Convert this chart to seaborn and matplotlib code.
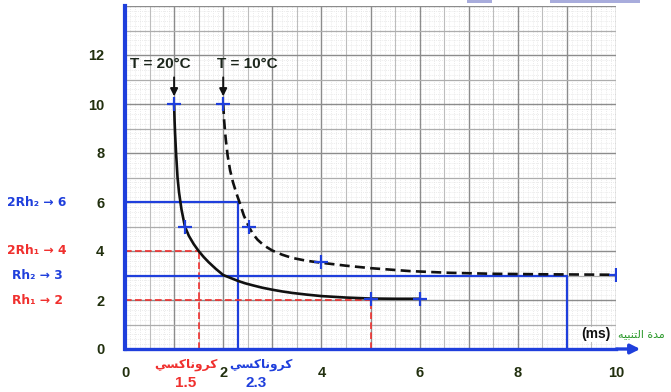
import numpy as np
import pandas as pd
import matplotlib
matplotlib.use("Agg")
import matplotlib.pyplot as plt
from matplotlib.patches import Rectangle
import seaborn as sns

# ---- data ----
t20_x = [1.0, 1.01, 1.02, 1.04, 1.07, 1.1, 1.15, 1.22, 1.3, 1.4, 1.5, 1.6, 1.7, 1.85, 2.0, 2.15,
         2.3, 2.45, 2.6, 2.8, 3.0, 3.2, 3.4, 3.7, 4.0, 4.5, 5.0, 5.5, 6.0]
t20_y = [10.0, 9.3, 8.8, 8.0, 7.0, 6.4, 5.7, 5.0, 4.62, 4.28, 4.0, 3.76, 3.55, 3.27, 3.02, 2.9,
         2.78, 2.68, 2.6, 2.5, 2.42, 2.35, 2.29, 2.22, 2.16, 2.1, 2.06, 2.05, 2.05]
t20_pts_x = [1.0, 1.22, 5.0, 6.0]
t20_pts_y = [10.0, 5.0, 2.06, 2.05]

t10_x = [2.0, 2.02, 2.05, 2.09, 2.14, 2.2, 2.27, 2.33, 2.42, 2.52, 2.6, 2.7, 2.8, 2.9, 3.0, 3.2,
         3.4, 3.7, 4.0, 4.5, 5.0, 5.8, 6.6, 7.5, 8.5, 10.0]
t10_y = [10.0, 9.3, 8.6, 7.9, 7.3, 6.8, 6.35, 6.0, 5.45, 5.0, 4.71, 4.46, 4.28, 4.14, 4.02, 3.85,
         3.72, 3.6, 3.52, 3.4, 3.3, 3.18, 3.11, 3.07, 3.05, 3.03]
t10_pts_x = [2.0, 2.52, 4.0, 10.0]
t10_pts_y = [10.0, 5.0, 3.55, 3.03]

level_labels = ["2Rh\u2082 \u2192 6", "2Rh\u2081 \u2192 4", "Rh\u2082 \u2192 3", "Rh\u2081 \u2192 2"]
level_values = [6, 4, 3, 2]
level_x = [2.3, 1.5, 9.0, 5.0]
level_kind = ["blue", "red", "blue", "red"]

chronaxie_values = ["1.5", "2.3"]
x_ticks = [0, 2, 4, 6, 8, 10]
y_ticks = [0, 2, 4, 6, 8, 10, 12]

# Arabic in visual order with presentation forms (matplotlib has no shaping)
chronaxie_word = "\uFEF2\uFEB4\uFEDB\uFE8E\uFEE7\uFEED\uFEAE\uFEDB"        # كروناكسي
xlabel_word = "\uFEEA\uFEF4\uFE92\uFEE8\uFE98\uFEDF\uFE8D \uFE93\uFEAA\uFEE3"  # مدة التنبيه

BLUE = "#1f3fdc"
RED = "#f0302e"
TXT = "#22300f"
GREEN = "#2c9a2c"

sns.set_theme(style="white")
plt.rcParams["font.family"] = ["Liberation Sans", "DejaVu Sans"]

W, H = 671, 392
fig = plt.figure(figsize=(W / 100, H / 100), dpi=100)
fig.patch.set_facecolor("white")
x0px, x10px = 125, 616
y0px, pxy = 349, 24.5
ax = fig.add_axes([x0px / W, 1 - y0px / H, (x10px - x0px) / W, 14 * pxy / H])
ax.set_xlim(0, 10)
ax.set_ylim(0, 14)
ax.set_facecolor("white")

# grid (graph paper)
ax.vlines(np.arange(0, 10.01, 0.1), 0, 14, colors="#e4e4e4", lw=0.6, linestyles=(0, (1, 1.5)), zorder=0)
ax.hlines(np.arange(0, 14.01, 0.2), 0, 10, colors="#e4e4e4", lw=0.6, linestyles=(0, (1, 1.5)), zorder=0)
ax.vlines(np.arange(0.5, 10, 1.0), 0, 14, colors="#bdbdbd", lw=0.8, zorder=0)
ax.vlines(np.arange(1, 10.01, 1.0), 0, 14, colors="#8c8c8c", lw=1.0, zorder=0)
ax.hlines(np.arange(1, 14, 2.0), 0, 10, colors="#adadad", lw=0.9, zorder=0)
ax.hlines(np.arange(2, 14.01, 2.0), 0, 10, colors="#8c8c8c", lw=1.0, zorder=0)

# reference lines
for lv, lx, kind in zip(level_values, level_x, level_kind):
    if kind == "blue":
        ax.plot([0, lx], [lv, lv], color=BLUE, lw=1.6, zorder=2)
        ax.plot([lx, lx], [0, lv], color=BLUE, lw=1.6, zorder=2)
    else:
        ax.plot([0, lx], [lv, lv], color=RED, lw=1.2, ls=(0, (4, 2)), zorder=2)
        ax.plot([lx, lx], [0, lv], color=RED, lw=1.2, ls=(0, (4, 2)), zorder=2)

# curves
sns.lineplot(x=t20_x, y=t20_y, color="#111111", lw=1.9, sort=False, estimator=None, ax=ax, zorder=3)
sns.lineplot(x=t10_x, y=t10_y, color="#111111", lw=1.9, sort=False, estimator=None, ax=ax, zorder=3,
             linestyle=(0, (3.8, 2.0)))
sns.scatterplot(x=t20_pts_x + t10_pts_x, y=t20_pts_y + t10_pts_y, marker="+", s=90, color=BLUE,
                linewidth=1.6, ax=ax, zorder=4)

# spines / ticks
for s in ["top", "right"]:
    ax.spines[s].set_visible(False)
ax.spines["left"].set_color(BLUE)
ax.spines["left"].set_linewidth(3)
ax.spines["bottom"].set_color(BLUE)
ax.spines["bottom"].set_linewidth(2.4)
ax.spines["left"].set_zorder(5)
ax.spines["bottom"].set_zorder(5)
ax.set_xticks(x_ticks)
ax.set_yticks(y_ticks)
ax.set_xticklabels([str(v) for v in x_ticks])
ax.set_yticklabels([str(v) for v in y_ticks])
ax.tick_params(axis="both", direction="out", length=5.5, width=2, color=BLUE,
               labelcolor=TXT, labelsize=10.5)
ax.tick_params(axis="x", pad=7)
ax.tick_params(axis="y", pad=9.5)
for lab in ax.get_xticklabels() + ax.get_yticklabels():
    lab.set_fontweight("bold")
ax.set_xlabel("")
ax.set_ylabel("")

# x-axis arrow
ax.annotate("", xy=(10.55, 0), xytext=(9.95, 0), annotation_clip=False,
            arrowprops=dict(arrowstyle="-|>", color=BLUE, lw=2.4, mutation_scale=14))

# temperature labels and arrows
ax.text(0.72, 11.62, "T = 20\u00b0C", ha="center", va="center", fontsize=11, fontweight="bold", color="#1c261c")
ax.text(2.5, 11.62, "T = 10\u00b0C", ha="center", va="center", fontsize=11, fontweight="bold", color="#1c261c")
for xa in [t20_x[0], t10_x[0]]:
    ax.annotate("", xy=(xa, 10.2), xytext=(xa, 11.2),
                arrowprops=dict(arrowstyle="-|>", color="#111111", lw=1.4, mutation_scale=11))

# level labels on the left
for lab, lv, kind in zip(level_labels, level_values, level_kind):
    ax.text(-1.79, lv, lab, ha="center", va="center", fontsize=8.8, fontweight="bold",
            color=BLUE if kind == "blue" else RED, family=["DejaVu Sans"], clip_on=False)

# chronaxie labels
ax.text(1.24, -0.62, chronaxie_word, ha="center", va="center", fontsize=8.8, fontweight="bold",
        color=RED, family=["DejaVu Sans"], clip_on=False)
ax.text(1.24, -1.38, chronaxie_values[0], ha="center", va="center", fontsize=11, fontweight="bold",
        color=RED, clip_on=False)
ax.text(2.76, -0.62, chronaxie_word, ha="center", va="center", fontsize=8.8, fontweight="bold",
        color=BLUE, family=["DejaVu Sans"], clip_on=False)
ax.text(2.67, -1.38, chronaxie_values[1], ha="center", va="center", fontsize=11, fontweight="bold",
        color=BLUE, clip_on=False)

# axis label
ax.text(9.6, 0.6, "(ms)", ha="center", va="center", fontsize=10, fontweight="bold", color="#111111",
        bbox=dict(facecolor="white", edgecolor="none", pad=0.5), zorder=6)
ax.text(10.04, 0.6, xlabel_word, ha="left", va="center", fontsize=8.0, color=GREEN,
        family=["DejaVu Sans"], clip_on=False)

# small light-blue boxes at the top edge
fig.patches.append(Rectangle((467 / W, 1 - 3 / H), 25 / W, 3 / H, transform=fig.transFigure,
                             facecolor="#a8acdc", edgecolor="none"))
fig.patches.append(Rectangle((550 / W, 1 - 3 / H), 90 / W, 3 / H, transform=fig.transFigure,
                             facecolor="#a8acdc", edgecolor="none"))

fig.savefig("out.png", dpi=100)
